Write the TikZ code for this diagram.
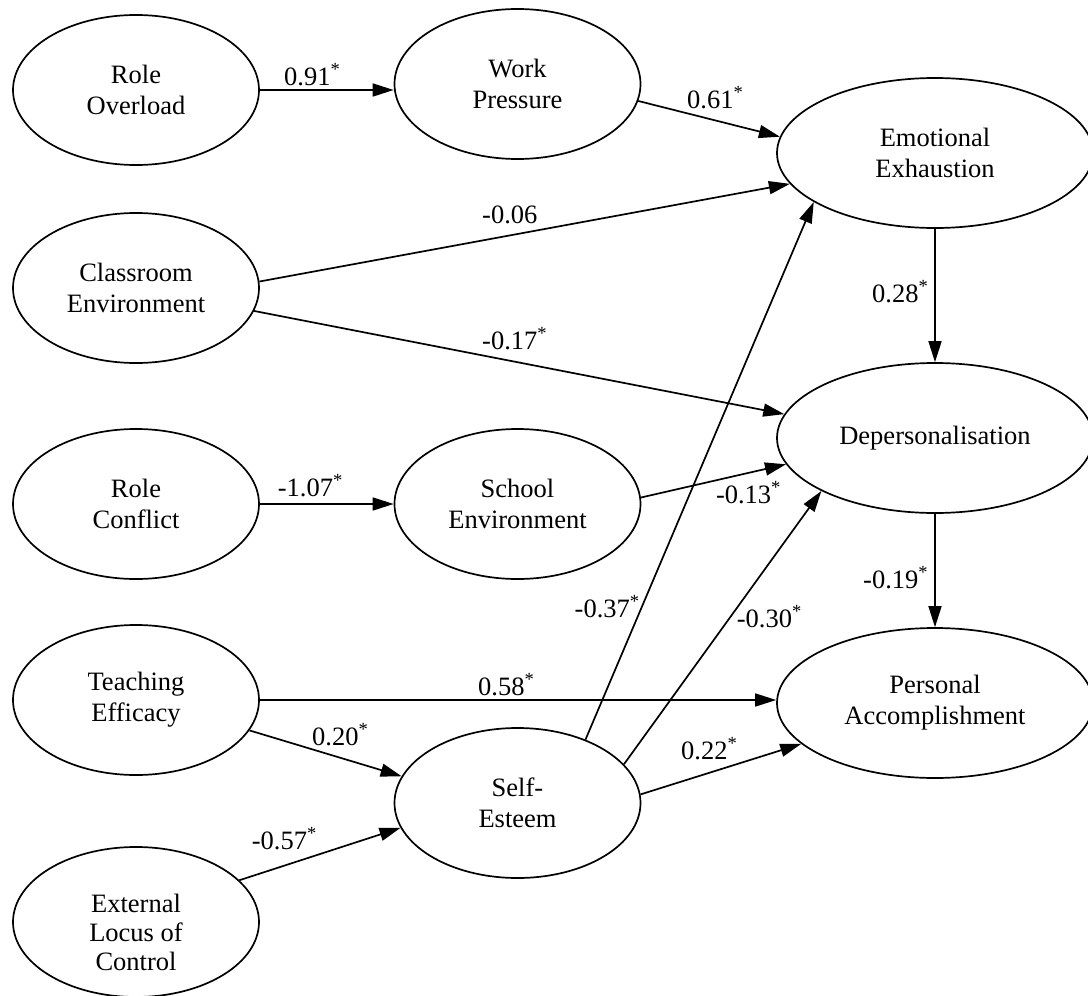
\documentclass[tikz,border=0pt]{standalone}
\usepackage{fontspec}
\setmainfont{Liberation Serif}
\usetikzlibrary{shapes.geometric,arrows.meta}
\begin{document}
\begin{tikzpicture}[x=1pt,y=-1pt,
  lat/.style={ellipse,draw,line width=1.7pt,minimum width=246pt,minimum height=150pt,inner sep=0pt,align=center,font=\fontsize{26.5}{31}\selectfont},
  latw/.style={lat,minimum width=316pt},
  arr/.style={line width=1.7pt,-{Triangle[length=21pt,width=13pt]}},
  coef/.style={anchor=base west,inner sep=0pt,font=\fontsize{26.5}{31}\selectfont}]
\useasboundingbox (0,0) rectangle (1088,996);
% latent variables
\node[lat] (ro) at (136,90) {Role\\Overload};
\node[lat] (wp) at (517.5,84) {Work\\Pressure};
\node[latw] (ee) at (935,153) {Emotional\\Exhaustion};
\node[lat] (ce) at (136,288) {Classroom\\Environment};
\node[latw] (dp) at (935,438) {Depersonalisation};
\node[lat] (rc) at (136,504) {Role\\Conflict};
\node[lat] (sc) at (517.5,504) {School\\Environment};
\node[lat] (te) at (136,700) {Teaching\\Efficacy};
\node[latw] (pa) at (935,703) {Personal\\Accomplishment};
\node[lat] (se) at (517.5,803) {Self-\\Esteem};
\node[lat] (el) at (136,922) {};
\node[align=center,inner sep=0pt,font=\fontsize{26.5}{29}\selectfont] (elt) at (136,932) {External\\Locus of\\Control};
% paths
\draw[arr] (ro.east) -- (ro.east -| wp.west);
\draw[arr] (wp.352.5) -- (ee.174);
\draw[arr] (ce.3.3) -- (ee.192.6);
\draw[arr] (ce.349.9) -- (dp.171.4);
\draw[arr] (ee.south) -- (dp.north);
\draw[arr] (rc.east) -- (sc.west);
\draw[arr] (sc.3.75) -- (dp.190);
\draw[arr] (se.43) -- (ee.202.7);
\draw[arr] (se.20.5) -- (dp.205.3);
\draw[arr] (dp.south) -- (pa.north);
\draw[arr] (te.east) -- (te.east -| pa.west);
\draw[arr] (te.345.8) -- (se.167.8);
\draw[arr] (el.22) -- (se.192.3);
\draw[arr] (se.4.7) -- (pa.197.1);
% coefficients
\node[coef] (l1) at (284,85) {0.91\textsuperscript{*}};
\node[coef] (l2) at (687,108) {0.61\textsuperscript{*}};
\node[coef] (l3) at (482,223) {-0.06};
\node[coef] (l4) at (482,349) {-0.17\textsuperscript{*}};
\node[coef] (l5) at (872,302) {0.28\textsuperscript{*}};
\node[coef] (l6) at (277.6,496) {-1.07\textsuperscript{*}};
\node[coef] (l7) at (715.8,503) {-0.13\textsuperscript{*}};
\node[coef] (l8) at (574.5,617) {-0.37\textsuperscript{*}};
\node[coef] (l9) at (736.6,627) {-0.30\textsuperscript{*}};
\node[coef] (l10) at (863,588) {-0.19\textsuperscript{*}};
\node[coef] (l11) at (478,695) {0.58\textsuperscript{*}};
\node[coef] (l12) at (312,745) {0.20\textsuperscript{*}};
\node[coef] (l13) at (251.6,849) {-0.57\textsuperscript{*}};
\node[coef] (l14) at (681,759) {0.22\textsuperscript{*}};
\end{tikzpicture}
\end{document}
